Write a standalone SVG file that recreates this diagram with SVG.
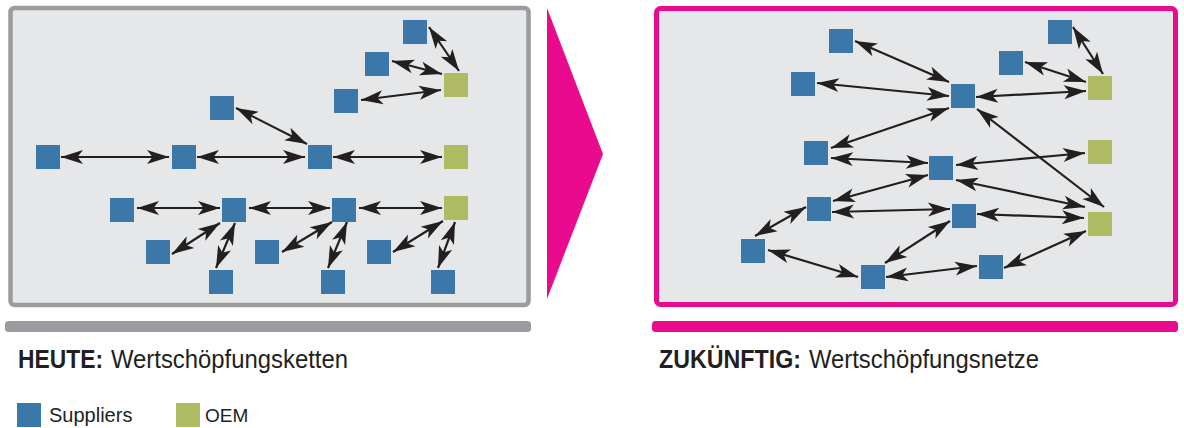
<svg xmlns="http://www.w3.org/2000/svg" width="1184" height="428" viewBox="0 0 1184 428">
  <style>
    .panel { fill: #e6e7e9; }
    .sup { fill: #3b77a9; }
    .oem { fill: #afbb63; }
    .conn line { stroke: #231f20; stroke-width: 2.2; marker-start: url(#ah); marker-end: url(#ah); }
    .lbl { font-family: "Liberation Sans", Arial, sans-serif; fill: #231f20; }
    .b { font-weight: bold; }
  </style>
  <defs>
    <marker id="ah" markerUnits="userSpaceOnUse" orient="auto-start-reverse" markerWidth="24" markerHeight="16" viewBox="-24 -8 24 16" refX="0" refY="0" overflow="visible">
      <path d="M0,0 L-22,-7 L-16.5,0 L-22,7 Z" fill="#231f20"/>
    </marker>
  </defs>

  <!-- left frame: value chains -->
  <rect class="panel" x="10.5" y="8" width="518" height="297" rx="4" stroke="#9b9ca0" stroke-width="4.5"/>
  <rect x="5" y="321" width="526" height="11" rx="3.5" fill="#9b9ca0"/>

  <!-- transition arrow -->
  <polygon points="547,8 603,154 547,299" fill="#ea0a8e"/>

  <!-- right frame: value networks -->
  <rect class="panel" x="656.5" y="8.5" width="519" height="296" rx="4" stroke="#ea0a8e" stroke-width="5"/>
  <rect x="652" y="321" width="526" height="11" rx="3.5" fill="#ea0a8e"/>

  <!-- connectors -->
  <g id="connectors" class="conn">
    <!-- chains -->
    <line x1="429" y1="27" x2="459" y2="71"/>
    <line x1="392" y1="61" x2="442" y2="74"/>
    <line x1="361" y1="100" x2="441" y2="90"/>
    <line x1="236" y1="108" x2="307" y2="144"/>
    <line x1="61" y1="157" x2="169" y2="157"/>
    <line x1="197" y1="157" x2="305" y2="157"/>
    <line x1="333" y1="157" x2="442" y2="157"/>
    <line x1="137" y1="208" x2="220" y2="208"/>
    <line x1="249" y1="208" x2="330" y2="208"/>
    <line x1="359" y1="208" x2="442" y2="208"/>
    <line x1="172" y1="254" x2="220" y2="223"/>
    <line x1="235" y1="223" x2="216" y2="268"/>
    <line x1="282" y1="252" x2="332" y2="222"/>
    <line x1="347" y1="222" x2="328" y2="268"/>
    <line x1="393" y1="252" x2="443" y2="221"/>
    <line x1="455" y1="222" x2="438" y2="268"/>
    <!-- networks -->
    <line x1="855" y1="41" x2="949" y2="82"/>
    <line x1="817" y1="83" x2="949" y2="96"/>
    <line x1="976" y1="97" x2="1086" y2="91"/>
    <line x1="1025" y1="62" x2="1086" y2="82"/>
    <line x1="1073" y1="27" x2="1103" y2="74"/>
    <line x1="949" y1="108" x2="831" y2="148"/>
    <line x1="977" y1="109" x2="1104" y2="207"/>
    <line x1="831" y1="158" x2="928" y2="163"/>
    <line x1="956" y1="165" x2="1085" y2="153"/>
    <line x1="928" y1="175" x2="833" y2="201"/>
    <line x1="956" y1="180" x2="1085" y2="207"/>
    <line x1="832" y1="212" x2="950" y2="209"/>
    <line x1="977" y1="214" x2="1084" y2="218"/>
    <line x1="806" y1="207" x2="755" y2="236"/>
    <line x1="768" y1="250" x2="858" y2="277"/>
    <line x1="950" y1="221" x2="885" y2="263"/>
    <line x1="886" y1="277" x2="977" y2="266"/>
    <line x1="1004" y1="268" x2="1086" y2="231"/>
  </g>

  <!-- chain nodes -->
  <g id="l-s1"><rect class="sup" x="403" y="20" width="24" height="24"/></g>
  <g id="l-s2"><rect class="sup" x="365" y="52" width="24" height="24"/></g>
  <g id="l-s3"><rect class="sup" x="334" y="89" width="24" height="24"/></g>
  <g id="l-s4"><rect class="sup" x="210" y="96" width="24" height="24"/></g>
  <g id="l-oem1"><rect class="oem" x="444" y="73" width="24" height="24"/></g>
  <g id="l-s5"><rect class="sup" x="36" y="145" width="24" height="24"/></g>
  <g id="l-s6"><rect class="sup" x="172" y="145" width="24" height="24"/></g>
  <g id="l-s7"><rect class="sup" x="308" y="145" width="24" height="24"/></g>
  <g id="l-oem2"><rect class="oem" x="444" y="145" width="24" height="24"/></g>
  <g id="l-s8"><rect class="sup" x="110" y="198" width="24" height="24"/></g>
  <g id="l-s9"><rect class="sup" x="222" y="198" width="24" height="24"/></g>
  <g id="l-s10"><rect class="sup" x="332" y="198" width="24" height="24"/></g>
  <g id="l-oem3"><rect class="oem" x="444" y="196" width="24" height="24"/></g>
  <g id="l-s11"><rect class="sup" x="146" y="240" width="24" height="24"/></g>
  <g id="l-s12"><rect class="sup" x="255" y="240" width="24" height="24"/></g>
  <g id="l-s13"><rect class="sup" x="367" y="240" width="24" height="24"/></g>
  <g id="l-s14"><rect class="sup" x="209" y="270" width="24" height="24"/></g>
  <g id="l-s15"><rect class="sup" x="321" y="270" width="24" height="24"/></g>
  <g id="l-s16"><rect class="sup" x="431" y="270" width="24" height="24"/></g>

  <!-- network nodes -->
  <g id="r-s1"><rect class="sup" x="829" y="29" width="24" height="24"/></g>
  <g id="r-s2"><rect class="sup" x="791" y="72" width="24" height="24"/></g>
  <g id="r-s3"><rect class="sup" x="1048" y="20" width="24" height="24"/></g>
  <g id="r-s4"><rect class="sup" x="999" y="51" width="24" height="24"/></g>
  <g id="r-hub1"><rect class="sup" x="951" y="84" width="24" height="24"/></g>
  <g id="r-oem1"><rect class="oem" x="1088" y="76" width="24" height="24"/></g>
  <g id="r-oem2"><rect class="oem" x="1088" y="140" width="24" height="24"/></g>
  <g id="r-oem3"><rect class="oem" x="1088" y="212" width="24" height="24"/></g>
  <g id="r-s5"><rect class="sup" x="804" y="141" width="24" height="24"/></g>
  <g id="r-hub2"><rect class="sup" x="929" y="156" width="24" height="24"/></g>
  <g id="r-s6"><rect class="sup" x="807" y="197" width="24" height="24"/></g>
  <g id="r-hub3"><rect class="sup" x="952" y="204" width="24" height="24"/></g>
  <g id="r-s7"><rect class="sup" x="741" y="239" width="24" height="24"/></g>
  <g id="r-s8"><rect class="sup" x="861" y="265" width="24" height="24"/></g>
  <g id="r-s9"><rect class="sup" x="979" y="255" width="24" height="24"/></g>

  <!-- captions -->
  <text class="lbl" y="368" font-size="26"><tspan class="b" x="18" textLength="85" lengthAdjust="spacingAndGlyphs">HEUTE:</tspan><tspan x="111" textLength="237" lengthAdjust="spacingAndGlyphs">Wertschöpfungsketten</tspan></text>
  <text class="lbl" y="368" font-size="26"><tspan class="b" x="659" textLength="142" lengthAdjust="spacingAndGlyphs">ZUKÜNFTIG:</tspan><tspan x="809" textLength="230" lengthAdjust="spacingAndGlyphs">Wertschöpfungsnetze</tspan></text>

  <!-- legend -->
  <g id="legend">
    <rect class="sup" x="17" y="403" width="24" height="24"/>
    <text class="lbl" x="49" y="422" font-size="20">Suppliers</text>
    <rect class="oem" x="176" y="403" width="24" height="24"/>
    <text class="lbl" x="205" y="422" font-size="19">OEM</text>
  </g>
</svg>
